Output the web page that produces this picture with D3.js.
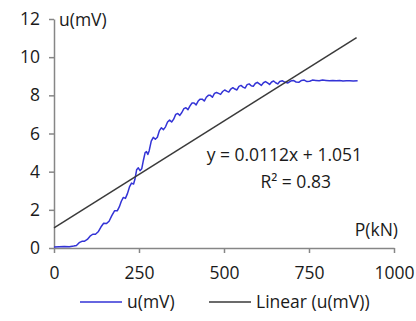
<!DOCTYPE html>
<html>
<head>
<meta charset="utf-8">
<script src="https://cdn.jsdelivr.net/npm/d3@7"></script>
<style>
  body { margin: 0; background: #fff; }
  text { font-family: "Open Sans", "Noto Sans", sans-serif; fill: #1a1a1a; }
</style>
</head>
<body>
<div id="chart"></div>
<script>
// measured series: load P (kN) vs voltage u (mV)
const uSeries = [
  [0,0.05],[15,0.07],[30,0.08],[45,0.06],[58,0.1],[66,0.13],[74,0.28],[82,0.35],[90,0.36],
  [98,0.45],[106,0.62],[114,0.72],[122,0.72],[130,0.85],[138,1.1],[146,1.3],[154,1.28],
  [162,1.4],[170,1.7],[178,1.95],[186,1.95],[192,2.15],[198,2.45],[204,2.65],[210,2.6],
  [216,2.85],[222,3.2],[228,3.4],[234,3.35],[238,3.6],[243,4.1],[248,4.2],[253,4.05],
  [258,4.15],[263,4.6],[268,5.0],[272,5.05],[276,4.9],[280,5.1],[286,5.6],[292,5.8],
  [298,5.7],[304,5.8],[310,6.15],[316,6.3],[322,6.2],[328,6.35],[334,6.6],[340,6.7],
  [346,6.6],[352,6.75],[358,7.0],[364,7.05],[370,6.95],[376,7.1],[382,7.3],[388,7.35],
  [394,7.25],[400,7.45],[406,7.6],[412,7.6],[418,7.5],[424,7.7],[430,7.8],[436,7.8],
  [442,7.7],[448,7.9],[454,8.0],[460,8.0],[466,7.9],[472,8.1],[478,8.15],[484,8.1],
  [490,8.05],[496,8.2],[502,8.28],[508,8.22],[514,8.17],[520,8.33],[526,8.4],[532,8.33],
  [538,8.28],[544,8.47],[550,8.52],[556,8.43],[562,8.38],[568,8.56],[574,8.6],[580,8.5],
  [586,8.47],[592,8.62],[598,8.68],[604,8.6],[610,8.52],[616,8.66],[622,8.72],[628,8.65],
  [634,8.57],[640,8.7],[646,8.75],[652,8.66],[658,8.6],[664,8.72],[672,8.76],[680,8.68],
  [688,8.65],[696,8.75],[704,8.78],[712,8.7],[720,8.68],[728,8.78],[736,8.8],[744,8.72],
  [752,8.74],[760,8.8],[770,8.78],[780,8.76],[790,8.8],[800,8.78],[810,8.76],[820,8.78],
  [830,8.76],[840,8.78],[850,8.75],[860,8.77],[870,8.76],[880,8.75],[893,8.76]
];
// linear trendline end points
const trendSeries = [[0, 1.051], [890, 11.02]];

const xTicks = [0, 250, 500, 750, 1000];
const yTicks = [0, 2, 4, 6, 8, 10, 12];
const seriesNames = ['u(mV)', 'Linear (u(mV))'];
const eqLabel = 'y = 0.0112x + 1.051';
const r2Label = 'R² = 0.83';

const width = 416, height = 321;
const margin = {top: 19, right: 22, bottom: 73, left: 54};
const fontSize = '17.5px';

const svg = d3.select('#chart').append('svg')
  .attr('width', width)
  .attr('height', height);

const x = d3.scaleLinear().domain([0, 1000]).range([margin.left, width - margin.right]);
const y = d3.scaleLinear().domain([0, 12]).range([height - margin.bottom, margin.top]);

const axisColor = '#868686';

const xAxis = svg.append('g')
  .attr('transform', `translate(0,${y(0)})`)
  .call(d3.axisBottom(x).tickValues(xTicks).tickFormat(d3.format('d'))
    .tickSize(5).tickSizeOuter(0).tickPadding(14));
const yAxis = svg.append('g')
  .attr('transform', `translate(${x(0)},0)`)
  .call(d3.axisLeft(y).tickValues(yTicks).tickSize(5).tickSizeOuter(0).tickPadding(9));

[xAxis, yAxis].forEach(g => {
  g.select('.domain').attr('stroke', axisColor).attr('stroke-width', 1.5);
  g.selectAll('.tick line').attr('stroke', axisColor).attr('stroke-width', 1.5);
  g.selectAll('.tick text').style('font-size', fontSize).attr('fill', '#1a1a1a');
});

const line = d3.line().x(d => x(d[0])).y(d => y(d[1]));

svg.append('path')
  .datum(uSeries)
  .attr('d', line)
  .attr('fill', 'none')
  .attr('stroke', '#3333d6')
  .attr('stroke-width', 1.5)
  .attr('stroke-linejoin', 'round');

svg.append('path')
  .datum(trendSeries)
  .attr('d', line)
  .attr('fill', 'none')
  .attr('stroke', '#3a3a3a')
  .attr('stroke-width', 1.5);

// axis titles
svg.append('text')
  .attr('x', x(0) + 5).attr('y', y(12) + 7)
  .style('font-size', fontSize)
  .text('u(mV)');
svg.append('text')
  .attr('x', x(1000) + 4).attr('y', y(0) - 12)
  .attr('text-anchor', 'end')
  .style('font-size', fontSize)
  .text('P(kN)');

// trendline label
svg.append('text')
  .attr('x', 362).attr('y', 161)
  .attr('text-anchor', 'end')
  .style('font-size', fontSize)
  .text(eqLabel);
svg.append('text')
  .attr('x', 331).attr('y', 188)
  .attr('text-anchor', 'end')
  .style('font-size', fontSize)
  .text(r2Label);

// legend
const legendX = [80, 209];
const legendColors = ['#3333d6', '#3a3a3a'];
const legend = svg.append('g');
seriesNames.forEach((name, i) => {
  legend.append('line')
    .attr('x1', legendX[i]).attr('x2', legendX[i] + 42)
    .attr('y1', 302).attr('y2', 302)
    .attr('stroke', legendColors[i])
    .attr('stroke-width', 1.5);
  legend.append('text')
    .attr('x', legendX[i] + 47).attr('y', 308)
    .style('font-size', fontSize)
    .text(name);
});
</script>
</body>
</html>
